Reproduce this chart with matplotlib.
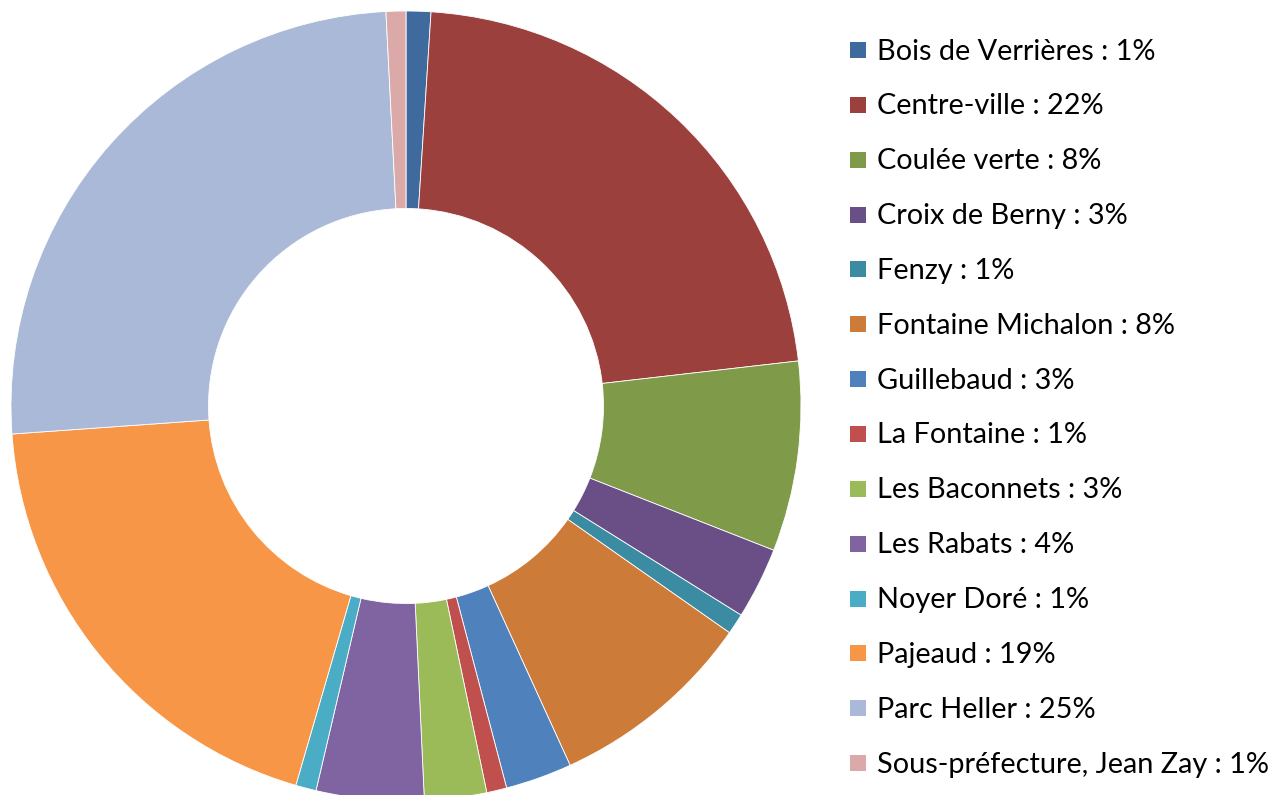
import matplotlib
matplotlib.use('agg')
import matplotlib.pyplot as plt
from matplotlib.patches import Rectangle

plt.rcParams['font.family'] = ['Lato', 'DejaVu Sans']

# share of each neighbourhood, in %
quartiers = ['Bois de Verrières', 'Centre-ville', 'Coulée verte', 'Croix de Berny',
             'Fenzy', 'Fontaine Michalon', 'Guillebaud', 'La Fontaine',
             'Les Baconnets', 'Les Rabats', 'Noyer Doré', 'Pajeaud',
             'Parc Heller', 'Sous-préfecture, Jean Zay']
parts = [1.01, 22.17, 7.77, 2.93, 0.85, 8.45, 2.72, 0.82,
         2.54, 4.40, 0.84, 19.37, 25.32, 0.81]
couleurs = ['#3F6A9E', '#9C403E', '#7F9A48', '#694F86', '#3B8BA2', '#CC7B38',
            '#4F81BD', '#C0504D', '#9BBB59', '#8064A2', '#4BACC6', '#F79646',
            '#A9B9D7', '#DBA9A8']

W, H = 1275, 795
fig = plt.figure(figsize=(W / 100, H / 100), dpi=100)

# donut: centre (406, 406) px from top-left, outer radius 395 px
cx, cy, r = 406, 406, 395
ax = fig.add_axes([(cx - r) / W, (H - cy - r) / H, 2 * r / W, 2 * r / H])
ax.pie(parts, colors=couleurs, startangle=90, counterclock=False,
       radius=1, wedgeprops=dict(width=0.5, edgecolor='white', linewidth=0.6))
ax.set_xlim(-1, 1)
ax.set_ylim(-1, 1)
ax.set_aspect('equal')
ax.axis('off')

# legend on the right
total = sum(parts)
y0, pas = 50, 54.85
for i, (nom, val, c) in enumerate(zip(quartiers, parts, couleurs)):
    y = y0 + i * pas
    fig.patches.append(Rectangle((850 / W, 1 - (y + 8) / H), 16 / W, 16 / H,
                                 transform=fig.transFigure, facecolor=c,
                                 edgecolor='none'))
    fig.text(877 / W, 1 - (y + 1.5) / H, f'{nom} : {round(100 * val / total)}%',
             fontsize=20.8, va='center', ha='left', color='black')

fig.savefig('out.png', dpi=100)
plt.close(fig)
